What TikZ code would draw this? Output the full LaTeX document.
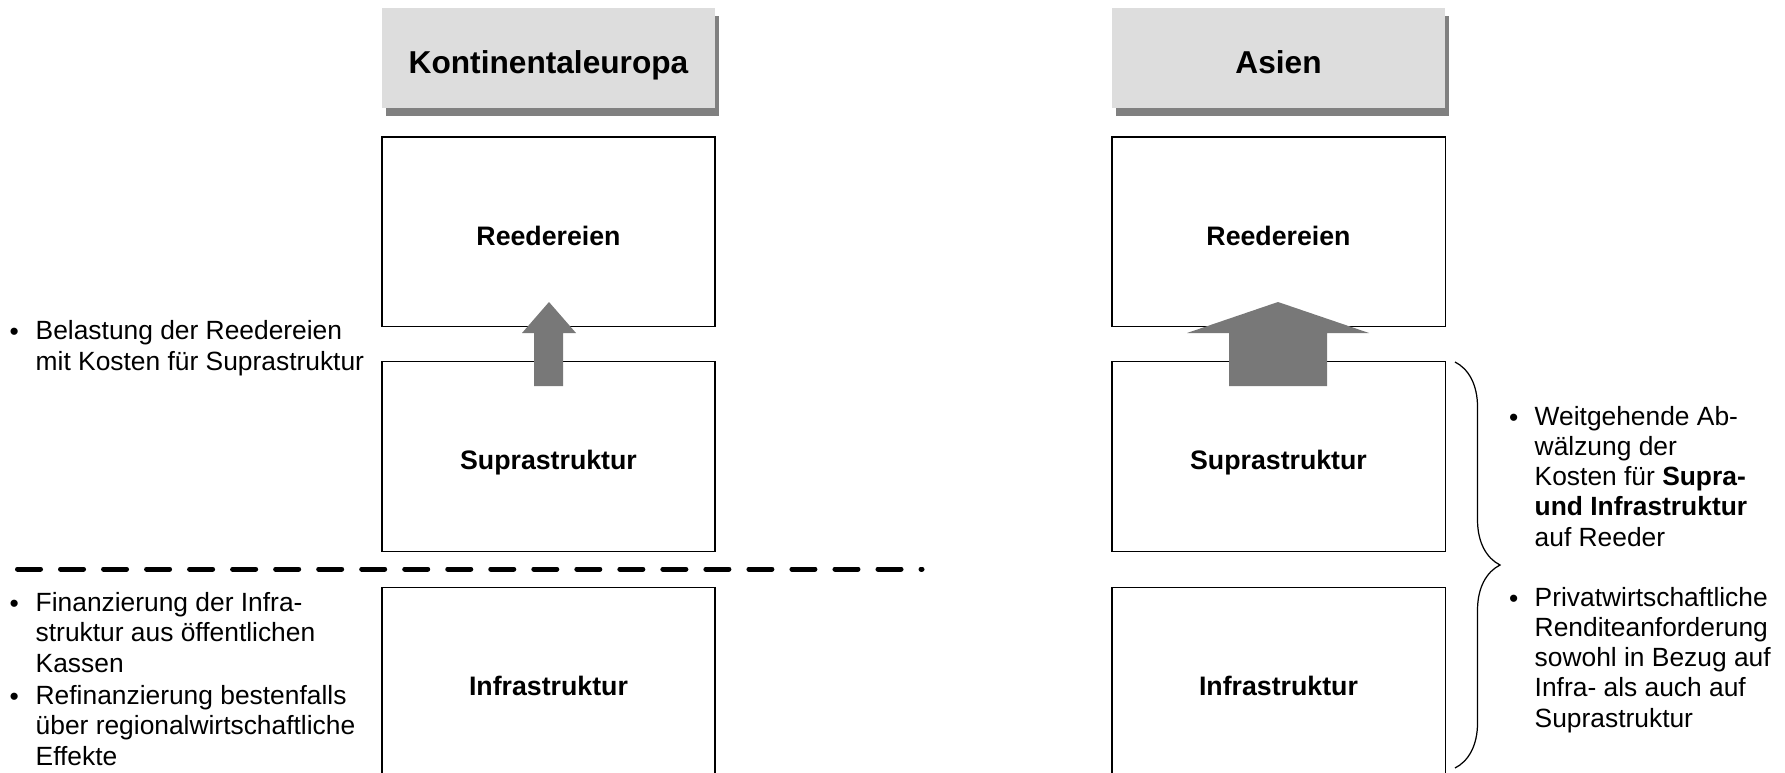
\documentclass[tikz,border=0pt]{standalone}
\usepackage{fontspec}
\setmainfont{Liberation Sans}
\usetikzlibrary{positioning,shadows,decorations.pathreplacing}
\definecolor{PORTlgray}{RGB}{221,221,221}
\definecolor{PORTshade}{RGB}{128,128,128}
\definecolor{PORTarrow}{RGB}{120,120,120}
\newcommand{\PORTtext}{\fontsize{7.5pt}{8.54pt}\selectfont}
\tikzstyle{PORThead}=[fill=PORTlgray, drop shadow={shadow xshift=0.04cm, shadow yshift=-0.08cm, fill=PORTshade, opacity=1}, minimum width=3.33cm, minimum height=1cm, inner sep=0pt, outer sep=0pt, font=\fontsize{9pt}{10.8pt}\selectfont\bfseries, text height=0.30cm, text depth=0pt]
\tikzstyle{PORTbox}=[draw=black, line width=0.35pt, minimum width=3.33cm, minimum height=1.895cm, inner sep=0pt, outer sep=0pt, font=\fontsize{7.6pt}{9pt}\selectfont\bfseries, text height=0.27cm, text depth=0pt]
\tikzstyle{PORTnote}=[anchor=base west, align=left, inner sep=0pt, font=\PORTtext]
\tikzstyle{PORTbullet}=[anchor=base west, inner sep=0pt, font=\PORTtext]
\tikzstyle{PORTblock}=[fill=PORTarrow]

\begin{document}
\begin{tikzpicture}[x=0.01cm, y=0.01cm]
    \clip (0,0) rectangle (1785,772);
    \node [PORThead] (headEU) at (548.5,714) {Kontinentaleuropa\hspace{0.14cm}};
    \node [PORThead] (headAS) at (1278.5,714) {Asien\hspace{0.14cm}};
    \node [PORTbox, below=0.29cm of headEU] (reedEU) {Reedereien};
    \node [PORTbox, below=0.35cm of reedEU] (supEU) {Suprastruktur};
    \node [PORTbox, below=0.36cm of supEU] (infEU) {Infrastruktur};
    \node [PORTbox, below=0.29cm of headAS] (reedAS) {Reedereien};
    \node [PORTbox, below=0.35cm of reedAS] (supAS) {Suprastruktur};
    \node [PORTbox, below=0.36cm of supAS] (infAS) {Infrastruktur};
    \path [PORTblock] (534,386) -- (534,439) -- (522,439) -- (549,470) -- (576,439) -- (563,439) -- (563,386) -- cycle;
    \path [PORTblock] (1229,386) -- (1229,439) -- (1187,439) -- (1278,470) -- (1369,439) -- (1327,439) -- (1327,386) -- cycle;
    \draw [line width=1.42pt, line cap=round, dash pattern=on 0.23cm off 0.20cm] (17.5,203) -- (922,203);
    \draw [line width=0.35pt, decorate, decoration={brace, amplitude=0.45cm}] (1455,410) -- (1455,4);
    \node [PORTbullet] (bulA) at (9,432) {•};
    \node [PORTnote] (noteA) at (35,402) {Belastung der Reedereien\\mit Kosten für Suprastruktur};
    \node [PORTbullet] (bulB) at (9,160) {•};
    \node [PORTnote] (noteB) at (35,100) {Finanzierung der Infra-\\struktur aus öffentlichen\\Kassen};
    \node [PORTbullet] (bulC) at (9,67) {•};
    \node [PORTnote] (noteC) at (35,7) {Refinanzierung bestenfalls\\über regionalwirtschaftliche\\Effekte};
    \node [PORTbullet] (bulD) at (1508.5,346) {•};
    \node [PORTnote] (noteD) at (1534,226) {Weitgehende Ab-\\wälzung der\\Kosten für \textbf{Supra-}\\\textbf{und Infrastruktur}\\auf Reeder};
    \node [PORTbullet] (bulE) at (1508.5,165) {•};
    \node [PORTnote] (noteE) at (1534,45) {Privatwirtschaftliche\\Renditeanforderung\\sowohl in Bezug auf\\Infra- als auch auf\\Suprastruktur};
\end{tikzpicture}
\end{document}
